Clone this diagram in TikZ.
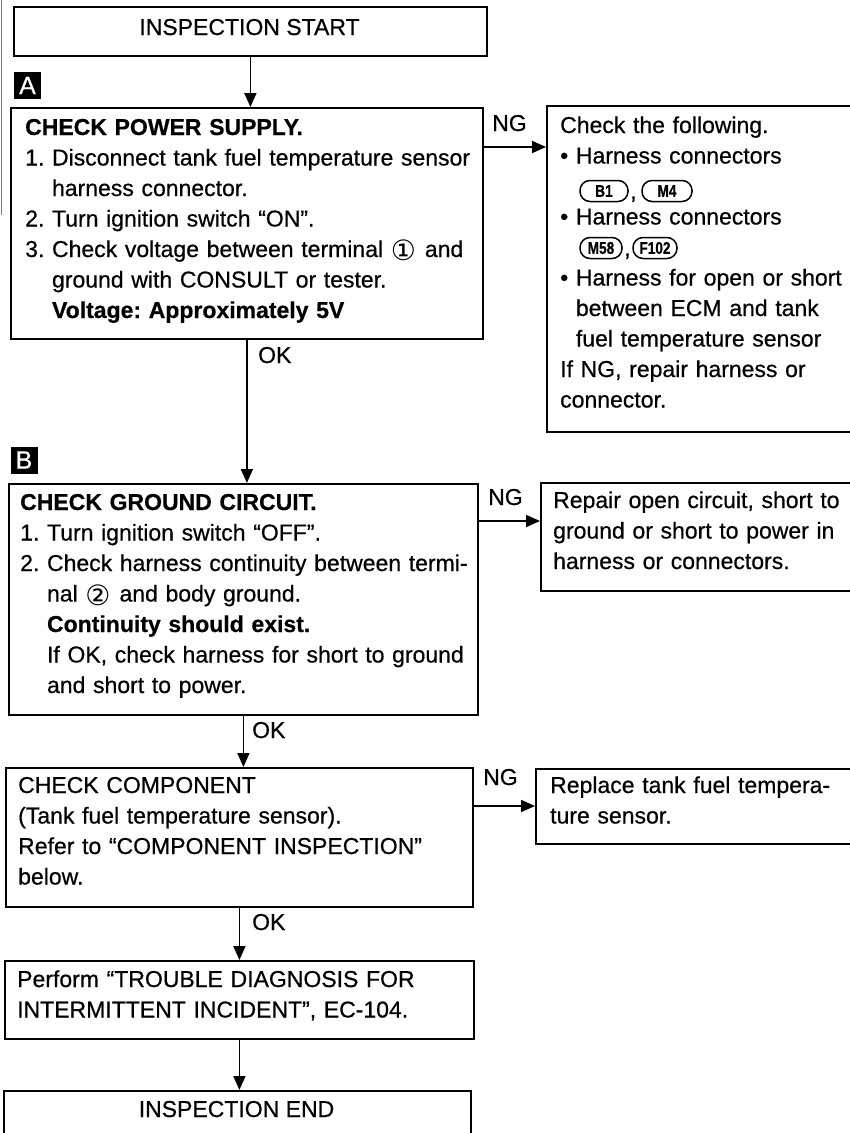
\documentclass[tikz,border=0pt]{standalone}
\usepackage{fontspec}
\usepackage{graphicx}
\setmainfont{Liberation Sans}[UprightFeatures={FakeBold=0.6},BoldFeatures={FakeBold=0.6}]
\newfontfamily\symfont{DejaVu Sans}
\usetikzlibrary{arrows.meta,calc}
\newcommand{\circd}[1]{\raisebox{-3.5pt}{\symfont\fontsize{28}{30.5}\selectfont #1}}
\newcommand{\cnd}[1]{\scalebox{0.8}[1]{#1}}
\begin{document}
\begin{tikzpicture}[x=1pt,y=-1pt,
  font=\fontsize{23}{30.5}\selectfont\frenchspacing,
  box/.style={draw,line width=1.8pt,inner sep=0,anchor=north west},
  txt/.style={anchor=base west,inner sep=0,align=left,text width=#1},
  lbl/.style={anchor=base west,inner sep=0},
  arr/.style={line width=1.8pt,-{Triangle[length=14pt,width=12pt]}},
  tag/.style={fill=black,text=white,minimum size=27pt,inner sep=0,font=\fontsize{25}{25}\selectfont},
  conn/.style={draw,line width=1.5pt,rounded corners=10pt,minimum height=21pt,inner sep=0,font=\fontsize{17}{17}\selectfont\bfseries}
]
\useasboundingbox (0,0) rectangle (850,1133);
\clip (0,0) rectangle (850,1133);

% scan edge line
\draw[line width=1pt,gray] (1,0) -- (1,215);

% boxes
\node[box,minimum width=473pt,minimum height=49pt] (S) at (13,6) {};
\node[box,minimum width=472pt,minimum height=231pt] (A) at (10,107) {};
\node[box,minimum width=320pt,minimum height=326pt] (R1) at (546,105) {};
\node[box,minimum width=469pt,minimum height=231pt] (B) at (8,483) {};
\node[box,minimum width=320pt,minimum height=108pt] (R2) at (540,482) {};
\node[box,minimum width=467pt,minimum height=139pt] (C) at (5,767) {};
\node[box,minimum width=320pt,minimum height=75pt] (D) at (535,768) {};
\node[box,minimum width=469pt,minimum height=78pt] (E) at (4,960) {};
\node[box,minimum width=467pt,minimum height=80pt] (F) at (3,1090) {};

% tags
\node[tag] (tagA) at (27.5,85.5) {A};
\node[tag] (tagB) at (24,460) {B};

% texts
\node[lbl,anchor=base] (tS) at (249.5,35) {INSPECTION START};
\node[txt=460pt] (tA) at (25,135) {\textbf{CHECK POWER SUPPLY.}\\
1. Disconnect tank fuel temperature sensor\\
\hphantom{1. }harness connector.\\
2. Turn ignition switch “ON”.\\
3. Check voltage between terminal \circd{①}\hspace{9pt}and\\
\hphantom{3. }ground with CONSULT or tester.\\
\hphantom{3. }\textbf{Voltage: Approximately 5V}};

\node[txt=300pt] (tR1) at (560,133) {Check the following.\\
• Harness connectors\\
\mbox{}\\
• Harness connectors\\
\mbox{}\\
• Harness for open or short\\
\hphantom{• }between ECM and tank\\
\hphantom{• }fuel temperature sensor\\
If NG, repair harness or\\
connector.};

\node[conn,minimum width=48pt] (c1) at (604,191) {\cnd{B1}};
\node[lbl] (k1) at (630,199) {,};
\node[conn,minimum width=50pt] (c2) at (667,191) {\cnd{M4}};
\node[conn,minimum width=42pt] (c3) at (601,248) {\cnd{M58}};
\node[lbl] (k2) at (624,256) {,};
\node[conn,minimum width=44pt] (c4) at (655,248) {\cnd{F102}};

\node[txt=460pt] (tB) at (20,510) {\textbf{CHECK GROUND CIRCUIT.}\\
1. Turn ignition switch “OFF”.\\
2. Check harness continuity between termi-\\
\hphantom{2. }nal \circd{②}\hspace{9pt}and body ground.\\
\hphantom{2. }\textbf{Continuity should exist.}\\
\hphantom{2. }If OK, check harness for short to ground\\
\hphantom{2. }and short to power.};

\node[txt=300pt] (tR2) at (553,508) {Repair open circuit, short to\\
ground or short to power in\\
harness or connectors.};

\node[txt=450pt] (tC) at (18,793) {CHECK COMPONENT\\
(Tank fuel temperature sensor).\\
Refer to “COMPONENT INSPECTION”\\
below.};

\node[txt=300pt] (tD) at (550,793) {Replace tank fuel tempera-\\
ture sensor.};

\node[txt=455pt] (tE) at (17,987) {Perform “TROUBLE DIAGNOSIS FOR\\
INTERMITTENT INCIDENT”, EC-104.};

\node[lbl,anchor=base] (tF) at (236.5,1117) {INSPECTION END};

% labels
\node[lbl] (ng1) at (492,131) {NG};
\node[lbl] (ng2) at (488,505) {NG};
\node[lbl] (ng3) at (483,785) {NG};
\node[lbl] (ok1) at (258,363) {OK};
\node[lbl] (ok2) at (252,738) {OK};
\node[lbl] (ok3) at (252,930) {OK};

% vertical connectors
\draw[arr] (S.south) -- (S.south |- A.north);
\draw[arr] (A.south) -- (A.south |- B.north);
\draw[arr] (B.south) -- (B.south |- C.north);
\draw[arr] (C.south) -- (C.south |- E.north);
\draw[arr] (E.south) -- (E.south |- F.north);

% NG connectors
\coordinate (a1) at ($(A.north east)+(0,40)$);
\draw[arr] (a1) -- (a1 -| R1.west);
\coordinate (b1) at ($(B.north east)+(0,38)$);
\draw[arr] (b1) -- (b1 -| R2.west);
\coordinate (d1) at ($(C.north east)+(0,39)$);
\draw[arr] (d1) -- (d1 -| D.west);
\end{tikzpicture}
\end{document}
